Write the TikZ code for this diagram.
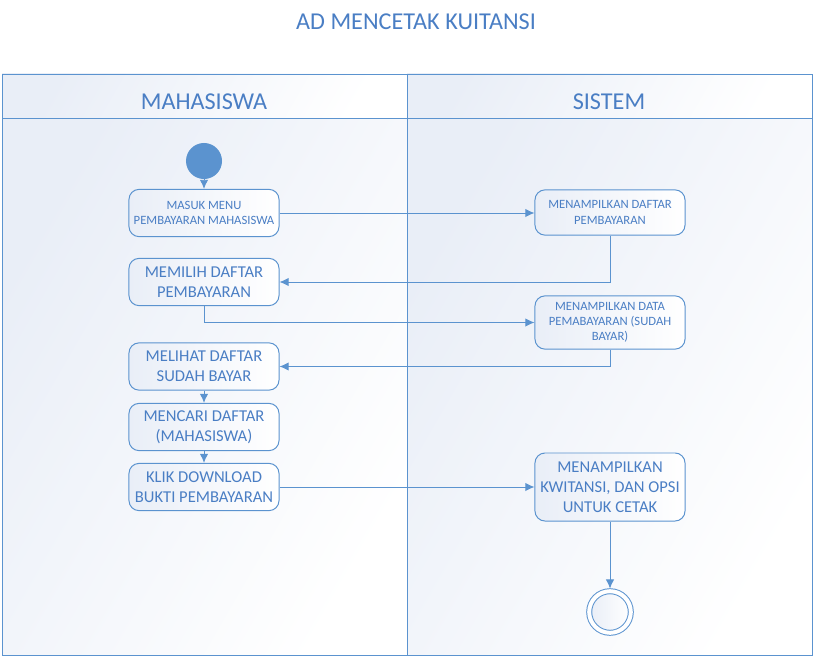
\documentclass[tikz,border=0pt]{standalone}
\usepackage{fontspec}
\usetikzlibrary{arrows.meta}
\setmainfont{Carlito}
\definecolor{garisbiru}{HTML}{5B93CF}
\definecolor{teksbiru}{HTML}{4A7EC4}
\definecolor{isibiru}{HTML}{E9EEF7}
\begin{document}
\begin{tikzpicture}[
                x=0.025cm, y=-0.025cm,
                every path/.append style={garisbiru, line width=0.7pt},
                every node/.append style={teksbiru, align=center},
                lajur/.style={draw=garisbiru, left color=isibiru, right color=white, shading angle=60},
                aksi/.style={draw=garisbiru, rounded corners=0.25cm, left color=isibiru, right color=white,
                    minimum width=3.75cm, minimum height=1.18cm, inner sep=1pt, font=\fontsize{11.8}{14.3}\selectfont},
                aksikecil/.style={aksi, font=\fontsize{9}{10.8}\selectfont},
                alur/.style={-{Latex[length=6.5pt,width=6pt]}}
            ]
                \useasboundingbox (0,0) rectangle (814,657);
                \node[font=\fontsize{17.2}{19}\selectfont] (judul) at (416,22) {AD MENCETAK KUITANSI};

                % lajur
                \path[lajur] (2,74) rectangle (407,118);
                \path[lajur] (407,74) rectangle (812,118);
                \path[lajur] (2,118) rectangle (407,655);
                \path[lajur] (407,118) rectangle (812,655);
                \node[font=\fontsize{17.2}{19}\selectfont] (mhs) at (204,102) {MAHASISWA};
                \node[font=\fontsize{17.2}{19}\selectfont] (sis) at (609,102) {SISTEM};

                % aktivitas
                \node[circle, fill=garisbiru, minimum size=0.9cm] (mulai) at (204,161) {};
                \node[aksikecil] (masuk) at (204,213) {MASUK MENU\\PEMBAYARAN MAHASISWA};
                \node[aksikecil, minimum height=1.13cm] (daftar) at (610,212.5) {MENAMPILKAN DAFTAR\\PEMBAYARAN};
                \node[aksi] (pilih) at (204,282) {MEMILIH DAFTAR\\PEMBAYARAN};
                \node[aksikecil, minimum height=1.33cm] (data) at (610,322.5) {MENAMPILKAN DATA\\PEMABAYARAN (SUDAH\\BAYAR)};
                \node[aksi] (lihat) at (204,366.5) {MELIHAT DAFTAR\\SUDAH BAYAR};
                \node[aksi] (cari) at (204,427) {MENCARI DAFTAR\\(MAHASISWA)};
                \node[aksi] (klik) at (204,487) {KLIK DOWNLOAD\\BUKTI PEMBAYARAN};
                \node[aksi, minimum height=1.7cm] (kwitansi) at (610,487) {MENAMPILKAN\\KWITANSI, DAN OPSI\\UNTUK CETAK};
                \node[circle, draw=garisbiru, double, double distance=0.1cm, left color=isibiru, right color=white, minimum size=1.04cm] (akhir) at (610,612) {};

                \draw[alur] (mulai) -- (masuk);
                \draw[alur] (masuk.east) -- (masuk.east -| daftar.west);
                \draw[alur] (daftar.south) |- (pilih.east);
                \draw[alur] (pilih.south) |- (data.west);
                \draw[alur] (data.south) |- (lihat.east);
                \draw[alur] (lihat) -- (cari);
                \draw[alur] (cari) -- (klik);
                \draw[alur] (klik) -- (kwitansi);
                \draw[alur, shorten >=1.5pt] (kwitansi) -- (akhir);
            \end{tikzpicture}
\end{document}
